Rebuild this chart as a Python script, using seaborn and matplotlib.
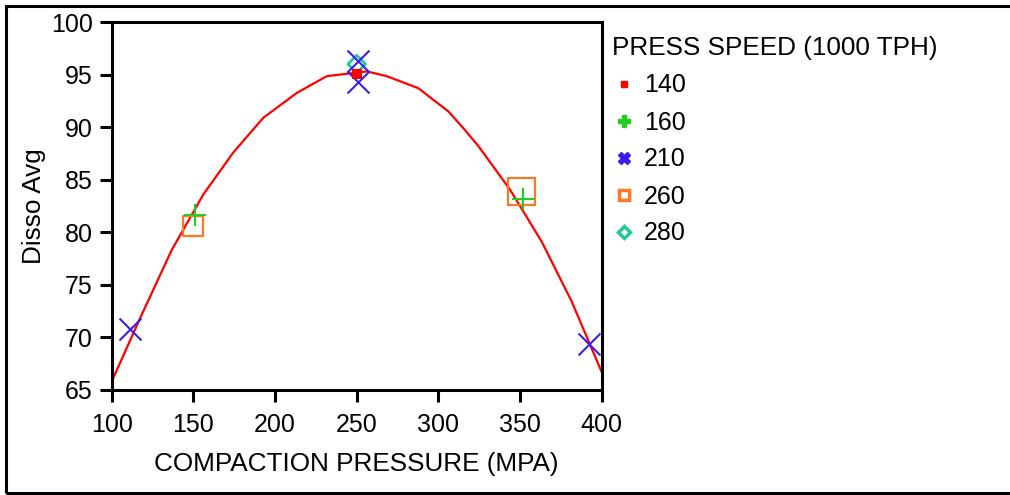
import matplotlib
matplotlib.use("Agg")
import matplotlib.pyplot as plt
import seaborn as sns
import pandas as pd
from matplotlib.lines import Line2D
from matplotlib.patches import Rectangle

# ---- data ----
speeds = ["140", "160", "210", "260", "280"]
pressure_140 = [250]
disso_140 = [95.1]
pressure_160 = [151, 352]
disso_160 = [81.6, 83.2]
pressure_210 = [111, 251, 251, 392]
disso_210 = [70.8, 96.3, 94.3, 69.4]
pressure_260 = [150, 351]
disso_260 = [80.6, 83.9]
pressure_280 = [250]
disso_280 = [96.0]

fit_pressure = [100, 117.3, 136.7, 156.1, 174.5, 192.9, 213.3, 231.7, 256.2, 268.4,
                287.8, 296.9, 306.1, 315.3, 324.5, 343.9, 363.3, 381.7, 400]
fit_disso = [65.8, 71.8, 78.3, 83.6, 87.6, 90.9, 93.25, 94.85, 95.3, 94.85,
             93.7, 92.6, 91.5, 89.9, 88.2, 84.05, 79.1, 73.4, 66.7]

x_ticks = [100, 150, 200, 250, 300, 350, 400]
y_ticks = [65, 70, 75, 80, 85, 90, 95, 100]

# ---- style ----
sns.set_style("ticks")
plt.rcParams["font.family"] = ["Liberation Sans", "DejaVu Sans"]
for k in ["text.color", "axes.labelcolor"]:
    plt.rcParams[k] = "black"
FS = 18
FS_LABEL = 18.8

colors = {"140": "#ff0000", "160": "#22cc22", "210": "#3a1ef0",
          "260": "#ff7722", "280": "#1fc99a"}

fig = plt.figure(figsize=(10.1, 4.95), dpi=100)
ax = fig.add_axes([111.7 / 1010, 1 - 390 / 495, (601.7 - 111.7) / 1010, (390 - 22) / 495])

fit_df = pd.DataFrame({"x": fit_pressure, "y": fit_disso})
sns.lineplot(data=fit_df, x="x", y="y", sort=False, color="#ff0000", lw=1.6, ax=ax, zorder=2)

groups = {
    "140": (pressure_140, disso_140),
    "160": (pressure_160, disso_160),
    "210": (pressure_210, disso_210),
    "260": (pressure_260, disso_260),
    "280": (pressure_280, disso_280),
}

def draw_hollow(key, marker, s, lw, z):
    xs, ys = groups[key]
    c = colors[key]
    sns.scatterplot(x=xs, y=ys, marker=marker, s=s, facecolor="none", edgecolor=c,
                    linewidth=lw, ax=ax, zorder=z, legend=False)

def draw_line_marker(key, marker, s, lw, z):
    xs, ys = groups[key]
    c = colors[key]
    sns.scatterplot(x=xs, y=ys, marker=marker, s=s, color=c,
                    linewidth=lw, ax=ax, zorder=z, legend=False)

draw_hollow("260", "s", [207, 378], 1.6, 3)
draw_hollow("280", "D", 80, 2.0, 4)
draw_line_marker("210", "x", 250, 1.5, 5)
draw_line_marker("160", "+", 250, 1.5, 6)
sns.scatterplot(x=pressure_140, y=disso_140, marker="s", s=55, color=colors["140"],
                linewidth=0, ax=ax, zorder=7, legend=False)

ax.set_xlim(100, 400)
ax.set_ylim(65, 100)
ax.set_xticks(x_ticks)
ax.set_yticks(y_ticks)
for sp in ax.spines.values():
    sp.set_visible(True)
    sp.set_color("black")
    sp.set_linewidth(2.2)
ax.set_xlabel("COMPACTION PRESSURE (MPA)", fontsize=FS_LABEL, labelpad=11)
ax.set_ylabel("Disso Avg", fontsize=FS_LABEL, labelpad=4)
ax.tick_params(axis="both", which="major", labelsize=FS, length=8.5, width=2.2,
               color="black", labelcolor="black", direction="out")
ax.tick_params(axis="x", pad=8)
ax.tick_params(axis="y", pad=5)

# legend
handles = [
    Line2D([], [], ls="none", marker="s", ms=4, color=colors["140"]),
    Line2D([], [], ls="none", marker="P", ms=8, color=colors["160"]),
    Line2D([], [], ls="none", marker="X", ms=8, color=colors["210"]),
    Line2D([], [], ls="none", marker="s", ms=7, mfc="white", mec=colors["260"], mew=2.5),
    Line2D([], [], ls="none", marker="D", ms=6.5, mfc="white", mec=colors["280"], mew=2.5),
]
leg = fig.legend(handles, speeds, title="PRESS SPEED (1000 TPH)", loc="upper left",
                 bbox_to_anchor=(595 / 1010, 1 - 19 / 495), frameon=False, fontsize=FS,
                 title_fontsize=FS_LABEL, alignment="left", handlelength=0.9, handletextpad=0.35,
                 labelspacing=0.52, borderpad=0.2)

fig.add_artist(Rectangle((6 / 1010, 1 - 493 / 495), 1.2, (493 - 6) / 495,
                         transform=fig.transFigure, fill=False, ec="black", lw=2.2))

fig.savefig("out.png", dpi=100)
